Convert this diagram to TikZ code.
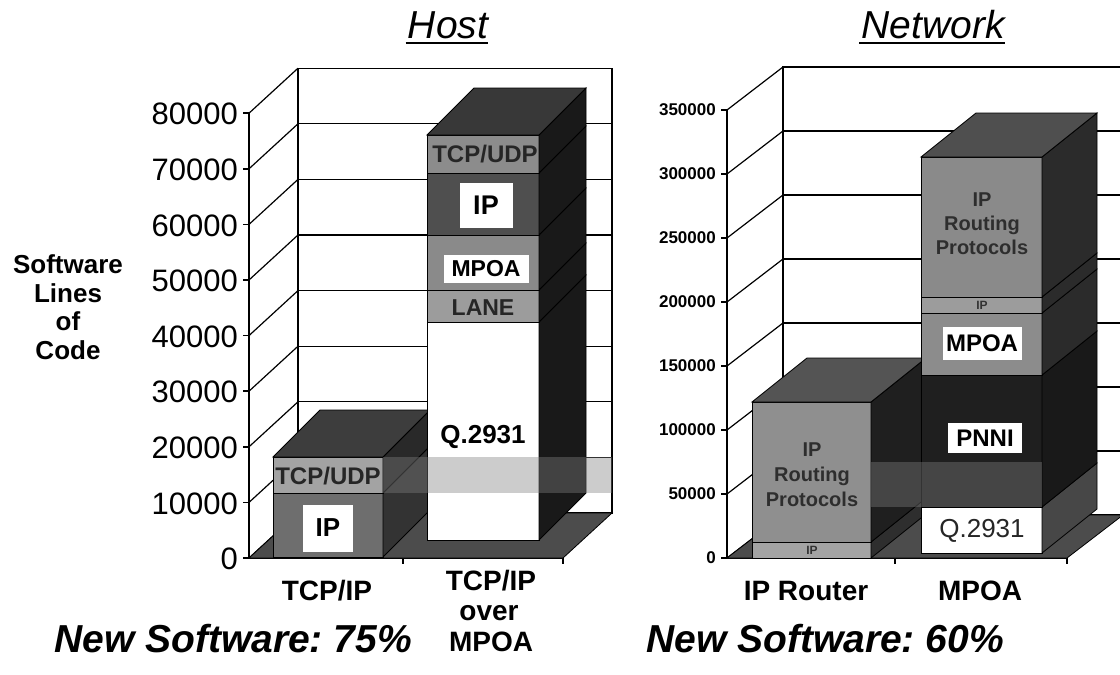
\documentclass[tikz,border=0pt]{standalone}
\usepackage{fontspec}
\setmainfont{Liberation Sans}
\newcommand\pxfont[2]{\fontsize{#1}{#2}\selectfont}
% one layer of a stacked 3D column: front face and right side face
% #1 x left, #2 x right, #3 y bottom, #4 y top, #5 front colour, #6 side colour
\newcommand\barslab[6]{%
  \filldraw[fill=#5,edge] (#1,#3) rectangle (#2,#4);
  \filldraw[fill=#6,edge] (#2,#3) -- (#2,#4) -- ({#2+\ddx},{#4-\ddy}) -- ({#2+\ddx},{#3-\ddy}) -- cycle;}
% top face of a column: #1 x left, #2 x right, #3 y top, #4 colour
\newcommand\barlid[4]{%
  \filldraw[fill=#4,edge] (#1,#3) -- (#2,#3) -- ({#2+\ddx},{#3-\ddy}) -- ({#1+\ddx},{#3-\ddy}) -- cycle;}
\begin{document}
\begin{tikzpicture}[x=1pt,y=-1pt,
  edge/.style={draw=black,line width=0.8pt},
  wall/.style={line width=1.2pt},
  axisline/.style={line width=1.5pt},
  band/.style={fill=black!50,opacity=0.4},
  txt/.style={inner sep=0pt,text=black},
  title/.style={txt,font=\itshape\pxfont{39}{39}},
  ytick/.style={txt,anchor=east,font=\pxfont{31}{31}},
  ytickb/.style={txt,anchor=east,font=\bfseries\pxfont{17}{17}},
  cat/.style={txt,anchor=base,font=\bfseries\pxfont{28}{28}},
  summary/.style={txt,anchor=base west,font=\frenchspacing\bfseries\itshape\pxfont{39}{39}},
  layertxt/.style={txt,text=black!85,font=\bfseries\pxfont{24}{24}},
  boxlabel/.style={fill=white,inner sep=0pt,text=black,font=\bfseries\pxfont{23}{23}},
  multitxt/.style={txt,text=black!82,align=center,font=\bfseries\pxfont{20}{24}},
  tinytxt/.style={txt,text=black!80,font=\bfseries\pxfont{12}{12}}]
\useasboundingbox (0,0) rectangle (1120,675);
\fill[white] (0,0) rectangle (1120,675);

% ---------------- titles ----------------
\node[title,anchor=base] (host) at (448,38) {Host};
\draw[line width=2pt] ([xshift=-2pt,yshift=-5pt]host.base west) -- ([yshift=-5pt]host.base east);
\node[title,anchor=base] (net) at (933,38) {Network};
\draw[line width=2pt] ([xshift=-2pt,yshift=-5pt]net.base west) -- ([yshift=-5pt]net.base east);

% ---------------- host chart ----------------
\node[txt,align=center,font=\bfseries\pxfont{26}{28.5}] (ylab) at (68,307) {Software\\Lines\\of\\Code};

% back wall and grid
\draw[wall] (298,{513-55.6*8}) rectangle (612,513);
\foreach \k in {1,...,7} \draw[wall] (298,{513-55.6*\k}) -- (612,{513-55.6*\k});
% side wall
\foreach \k in {0,...,8} \draw[wall] (249,{558-55.6*\k}) -- ++(49,-45);
% axes and ticks
\draw[axisline] (249,{558-55.6*8}) -- (249,558) -- (563,558);
\foreach \k in {0,...,8} \draw[axisline] (243,{558-55.6*\k}) -- (249,{558-55.6*\k});
\foreach \xx in {403,563} \draw[axisline] (\xx,558) -- (\xx,564);
\foreach \k/\t in {0/0,1/10000,2/20000,3/30000,4/40000,5/50000,6/60000,7/70000,8/80000}
  \node[ytick] (ly\k) at (238,{559-55.6*\k}) {\t};
% floor
\filldraw[fill=black!70,edge] (249,558) -- (563,558) -- (612,513) -- (298,513) -- cycle;

\def\ddx{47}\def\ddy{47}
% TCP/IP column
\barslab{273}{383}{557}{493}{black!57}{black!80}
\barslab{273}{383}{493}{457}{black!36}{black!84}
\barlid{273}{383}{457}{black!76}
% TCP/IP over MPOA column
\barslab{427}{539}{540}{322}{white}{black!90}
\barslab{427}{539}{322}{290}{black!39}{black!90}
\barslab{427}{539}{290}{235}{black!46}{black!90}
\barslab{427}{539}{235}{173}{black!69}{black!90}
\barslab{427}{539}{173}{135}{black!45}{black!90}
\barlid{427}{539}{135}{black!78}
% shaded band across the chart
\fill[band] (383,457) rectangle (612,493);

% layer labels
\node[layertxt] (l1tcp) at (328,476) {TCP/UDP};
\node[boxlabel,minimum width=50pt,minimum height=47pt,font=\bfseries\pxfont{26}{26}] (l1ip) at (328,528) {IP};
\node[layertxt] (l2tcp) at (485,154) {TCP/UDP};
\node[boxlabel,minimum width=53pt,minimum height=45pt,font=\bfseries\pxfont{27}{27}] (l2ip) at (486,205) {IP};
\node[boxlabel,minimum width=85pt,minimum height=28pt] (l2mpoa) at (486,269) {MPOA};
\node[layertxt,font=\bfseries\pxfont{23}{23}] (l2lane) at (483,308) {LANE};
\node[txt,font=\bfseries\pxfont{26}{26}] (l2q) at (483,437) {Q.2931};

% category labels
\node[cat] (c1) at (327,600) {TCP/IP};
\node[cat] (c2a) at (491,590) {TCP/IP};
\node[cat] (c2b) at (489,620) {over};
\node[cat] (c2c) at (491,651) {MPOA};
\node[summary] (s1) at (54,652) {New Software: 75\%};

% ---------------- network chart ----------------
% back wall and grid
\draw[wall] (1125,67) -- (783,67) -- (783,515);
\foreach \k in {0,...,6} \draw[wall] (783,{515-64*\k}) -- (1125,{515-64*\k});
% side wall
\foreach \k in {0,...,7} \draw[wall] (727,{558-64*\k}) -- ++(56,-43);
% axes and ticks
\draw[axisline] (727,110) -- (727,558) -- (1067,558);
\foreach \k in {0,...,7} \draw[axisline] (721,{558-64*\k}) -- (727,{558-64*\k});
\foreach \xx in {895,1067} \draw[axisline] (\xx,558) -- (\xx,564);
\foreach \k/\t in {0/0,1/50000,2/100000,3/150000,4/200000,5/250000,6/300000,7/350000}
  \node[ytickb] (ry\k) at (716,{558-64*\k}) {\t};
% floor
\filldraw[fill=black!70,edge] (727,558) -- (1067,558) -- (1123,515) -- (783,515) -- cycle;

\def\ddx{55}\def\ddy{44}
% IP Router column
\barslab{752}{871}{558}{542}{black!36}{black!82}
\barslab{752}{871}{542}{402}{black!44}{black!88}
\barlid{752}{871}{402}{black!67}
% MPOA column
\barslab{921}{1042}{553}{507}{white}{black!72}
\barslab{921}{1042}{507}{375}{black!88}{black!90}
\barslab{921}{1042}{375}{313}{black!45}{black!83}
\barslab{921}{1042}{313}{297}{black!39}{black!83}
\barslab{921}{1042}{297}{157}{black!46}{black!83}
\barlid{921}{1042}{157}{black!69}
% shaded band across the chart
\fill[band] (871,462) rectangle (1042,507);

% layer labels
\node[multitxt,font=\bfseries\pxfont{20}{25}] (r1irp) at (812,475) {IP\\Routing\\Protocols};
\node[tinytxt] (r1ip) at (812,550) {IP};
\node[multitxt] (r2irp) at (982,224) {IP\\Routing\\Protocols};
\node[tinytxt] (r2ip) at (982,305) {IP};
\node[boxlabel,minimum width=79pt,minimum height=33pt,font=\bfseries\pxfont{24}{24}] (r2mpoa) at (982,343) {MPOA};
\node[boxlabel,minimum width=74pt,minimum height=30pt,font=\bfseries\pxfont{24}{24}] (r2pnni) at (985,438) {PNNI};
\node[txt,text=black!85,font=\pxfont{26}{26}] (r2q) at (982,531) {Q.2931};

% category labels
\node[cat] (c3) at (806,600) {IP Router};
\node[cat] (c4) at (980,600) {MPOA};
\node[summary] (s2) at (646,652) {New Software: 60\%};
\end{tikzpicture}
\end{document}
